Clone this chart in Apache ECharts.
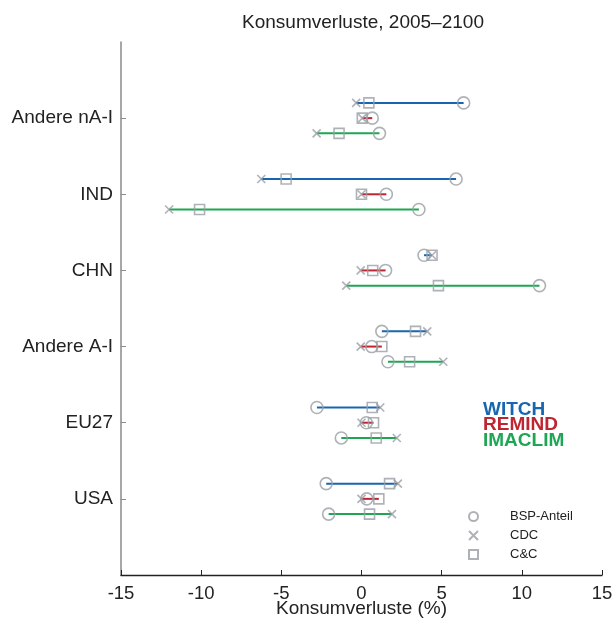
<!DOCTYPE html>
<html>
<head>
<meta charset="utf-8">
<script src="https://cdn.jsdelivr.net/npm/echarts@6/dist/echarts.min.js"></script>
<style>
html,body{margin:0;padding:0;background:#fff;}
#chart{width:613px;height:624px;}
</style>
</head>
<body>
<div id="chart"></div>
<script>
// Categories (top to bottom)
const categories = ['Andere nA-I', 'IND', 'CHN', 'Andere A-I', 'EU27', 'USA'];
const models = ['WITCH', 'REMIND', 'IMACLIM'];
const xTicks = [-15, -10, -5, 0, 5, 10, 15];

// Consumption losses (%) per model and allocation rule
const witchBSP   = [6.37, 5.90, 3.90, 1.27, -2.78, -2.20];
const witchCDC   = [-0.33, -6.25, 4.40, 4.10, 1.17, 2.27];
const witchCC    = [0.46, -4.70, 4.40, 3.37, 0.67, 1.75];

const remindBSP  = [0.67, 1.55, 1.50, 0.64, 0.30, 0.33];
const remindCDC  = [0.05, 0.00, -0.05, -0.05, 0.00, 0.00];
const remindCC   = [0.05, 0.00, 0.70, 1.27, 0.75, 1.08];

const imaclimBSP = [1.12, 3.58, 11.10, 1.65, -1.26, -2.05];
const imaclimCDC = [-2.80, -12.00, -0.95, 5.10, 2.20, 1.90];
const imaclimCC  = [-1.40, -10.10, 4.80, 3.00, 0.92, 0.50];

const modelColors = ['#1866b0', '#be2530', '#1ea653'];
const markerGray = '#9a9fa5';

const bsp = [witchBSP, remindBSP, imaclimBSP];
const cdc = [witchCDC, remindCDC, imaclimCDC];
const cc  = [witchCC, remindCC, imaclimCC];

function rowY(ci, mi) { return ci + (mi - 1) * 0.2; }

const series = [];
// range lines per model
models.forEach((m, mi) => {
  const data = categories.map((c, ci) => {
    const vals = [bsp[mi][ci], cdc[mi][ci], cc[mi][ci]];
    return [Math.min(...vals), Math.max(...vals), rowY(ci, mi)];
  });
  series.push({
    type: 'custom',
    name: m + '-range',
    data: data,
    encode: { x: [0, 1], y: 2 },
    z: 2,
    renderItem: function (params, api) {
      const p1 = api.coord([api.value(0), api.value(2)]);
      const p2 = api.coord([api.value(1), api.value(2)]);
      return {
        type: 'line',
        shape: { x1: p1[0], y1: p1[1], x2: p2[0], y2: p2[1] },
        style: { stroke: modelColors[mi], lineWidth: 2 }
      };
    }
  });
});

function pts(arrs) {
  const out = [];
  arrs.forEach((arr, mi) => arr.forEach((v, ci) => out.push([v, rowY(ci, mi)])));
  return out;
}

const markerStyle = { color: 'rgba(0,0,0,0)', borderColor: markerGray, borderWidth: 1.6 };

series.push({
  type: 'scatter', name: 'BSP-Anteil', data: pts(bsp), symbol: 'circle', symbolSize: 12,
  itemStyle: markerStyle, z: 3
});
series.push({
  type: 'scatter', name: 'CDC', data: pts(cdc), symbol: 'path://M0,0L10,10M10,0L0,10', symbolSize: 8,
  itemStyle: markerStyle, z: 3
});
series.push({
  type: 'scatter', name: 'C&C', data: pts(cc), symbol: 'rect', symbolSize: 10,
  itemStyle: markerStyle, z: 3
});

const chart = echarts.init(document.getElementById('chart'), null, { renderer: 'canvas' });
const font = 'Liberation Sans, Arial, Helvetica, sans-serif';
chart.setOption({
  animation: false,
  backgroundColor: '#fff',
  title: {
    text: 'Konsumverluste, 2005–2100',
    left: 363, top: 13, textAlign: 'center', padding: 0,
    textStyle: { fontFamily: font, fontSize: 19, fontWeight: 'normal', color: '#222' }
  },
  grid: { left: 121, right: 11, top: 42, bottom: 49, containLabel: false, outerBoundsMode: 'none' },
  legend: {
    data: ['BSP-Anteil', 'CDC', 'C&C'],
    orient: 'vertical', left: 468, top: 510, padding: 0,
    itemWidth: 9, itemHeight: 9, itemGap: 6,
    textStyle: { fontFamily: font, fontSize: 13, color: '#222', padding: [0, 0, 0, 27] },
    selectedMode: false
  },
  xAxis: {
    type: 'value', min: -15, max: 15, interval: 5,
    name: 'Konsumverluste (%)', nameLocation: 'middle', nameGap: 24, nameMoveOverlap: false,
    nameTextStyle: { fontFamily: font, fontSize: 19, color: '#222' },
    axisLine: { onZero: false, lineStyle: { color: '#222', width: 1.3 } },
    axisTick: { inside: true, length: 5, lineStyle: { color: '#222' } },
    axisLabel: { fontFamily: font, fontSize: 18.5, color: '#222', margin: 9,
      customValues: xTicks },
    splitLine: { show: false }
  },
  yAxis: {
    type: 'value', min: -1, max: 6, inverse: true,
    axisLine: { onZero: false, lineStyle: { color: '#8a8a8a', width: 1.5 } },
    axisTick: { inside: true, length: 5, lineStyle: { color: '#8a8a8a' },
      customValues: [0, 1, 2, 3, 4, 5] },
    axisLabel: { fontFamily: font, fontSize: 19, color: '#222', margin: 8,
      customValues: [0, 1, 2, 3, 4, 5],
      formatter: v => categories[v] },
    splitLine: { show: false }
  },
  graphic: [
    { type: 'text', left: 483, top: 400.5, style: { text: models[0], fill: modelColors[0], font: 'bold 19px ' + font } },
    { type: 'text', left: 483, top: 415.5, style: { text: models[1], fill: modelColors[1], font: 'bold 19px ' + font } },
    { type: 'text', left: 483, top: 431, style: { text: models[2], fill: modelColors[2], font: 'bold 19px ' + font } }
  ],
  series: series
});
</script>
</body>
</html>
